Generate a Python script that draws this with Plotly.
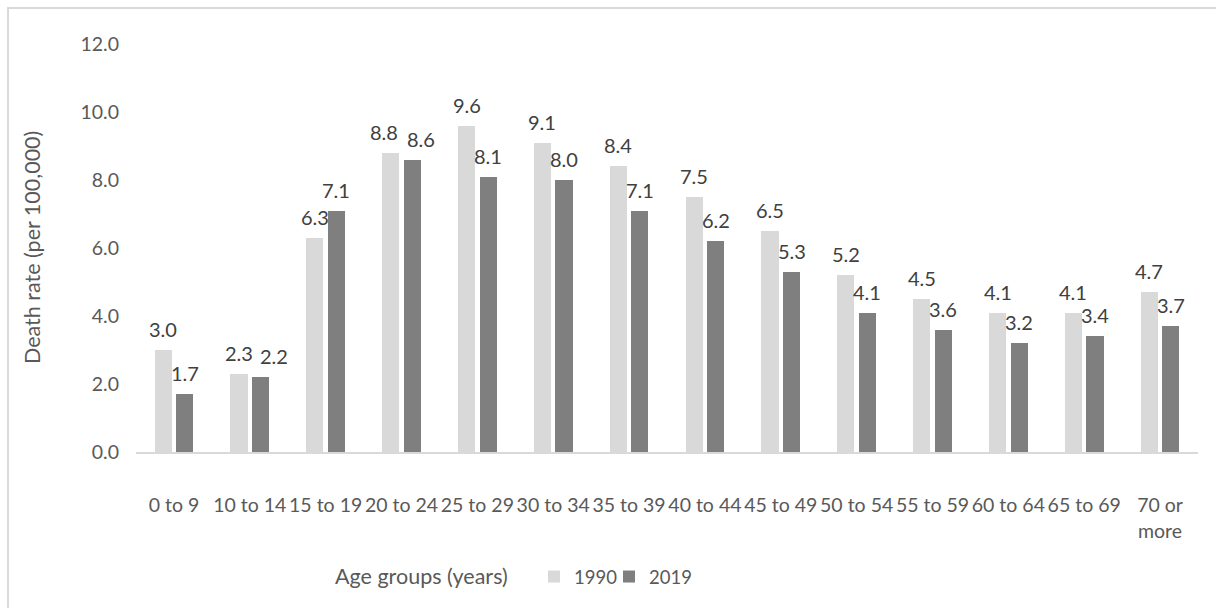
import plotly.graph_objects as go

# Age groups and death rates (per 100,000)
age_groups = ["0 to 9", "10 to 14", "15 to 19", "20 to 24", "25 to 29", "30 to 34",
              "35 to 39", "40 to 44", "45 to 49", "50 to 54", "55 to 59", "60 to 64",
              "65 to 69", "70 or<br>more"]
rate_1990 = [3.0, 2.3, 6.3, 8.8, 9.6, 9.1, 8.4, 7.5, 6.5, 5.2, 4.5, 4.1, 4.1, 4.7]
rate_2019 = [1.7, 2.2, 7.1, 8.6, 8.1, 8.0, 7.1, 6.2, 5.3, 4.1, 3.6, 3.2, 3.4, 3.7]
y_ticks = [0, 2, 4, 6, 8, 10, 12]

FONT = "Lato"
AXIS_GREY = "#595959"
LABEL_GREY = "#404040"
C1990 = "#d9d9d9"
C2019 = "#7f7f7f"

# plot-area geometry in pixels (canvas 1216 x 608)
L, R, T, B = 136, 1198, 44, 452
W, H = 1216, 608

def px(x):
    return (x - L) / (R - L)

def py(y):
    return (B - y) / (B - T)

idx = list(range(len(age_groups)))
bar_w = 0.225
gap = 0.03

# horizontal nudges (px) for value labels that would otherwise collide
label_nudge = {(1, 1): 13, (3, 0): -7, (3, 1): 9}

fig = go.Figure()
fig.add_trace(go.Bar(x=idx, y=rate_1990, name="1990", marker_color=C1990,
                     width=bar_w, offset=-gap - bar_w, marker_line_width=0,
                     legend="legend"))
fig.add_trace(go.Bar(x=idx, y=rate_2019, name="2019", marker_color=C2019,
                     width=bar_w, offset=gap, marker_line_width=0,
                     legend="legend2"))

annotations = []
for i, (a, b) in enumerate(zip(rate_1990, rate_2019)):
    for s, (xv, val) in enumerate(((i - gap - bar_w / 2, a), (i + gap + bar_w / 2, b))):
        annotations.append(dict(x=xv, y=val, xref="x", yref="y", text=f"{val:.1f}",
                                showarrow=False, yanchor="bottom", yshift=7,
                                xshift=label_nudge.get((i, s), 0),
                                font=dict(family=FONT, size=20, color=LABEL_GREY)))

# axis titles
annotations.append(dict(x=px(32), y=0.5, xref="paper", yref="paper",
                        text="Death rate (per 100,000)", textangle=-90, showarrow=False,
                        xanchor="center", yanchor="middle",
                        font=dict(family=FONT, size=21.5, color=AXIS_GREY)))
annotations.append(dict(x=px(421), y=py(576), xref="paper", yref="paper",
                        text="Age groups (years)", showarrow=False,
                        xanchor="center", yanchor="middle",
                        font=dict(family=FONT, size=21.5, color=AXIS_GREY)))

legend_style = dict(orientation="h", xanchor="left", yanchor="middle",
                    font=dict(family=FONT, size=18.5, color=AXIS_GREY),
                    itemwidth=30, bgcolor="rgba(0,0,0,0)")

fig.update_layout(
    width=W, height=H,
    margin=dict(l=L, r=W - R, t=T, b=H - B),
    paper_bgcolor="white", plot_bgcolor="white",
    bargap=0, barmode="group",
    annotations=annotations,
    showlegend=True,
    legend=dict(x=px(534), y=py(577), **legend_style),
    legend2=dict(x=px(609), y=py(577), **legend_style),
    shapes=[dict(type="rect", xref="paper", yref="paper",
                 x0=px(8), x1=px(1240), y0=py(640), y1=py(8),
                 line=dict(color="#d9d9d9", width=2), layer="below")],
    xaxis=dict(range=[-0.5, len(age_groups) - 0.5], tickmode="array", tickvals=idx,
               ticktext=age_groups, showgrid=False, zeroline=False,
               showline=True, linecolor="#d9d9d9", linewidth=1.5, ticks="",
               tickfont=dict(family=FONT, size=19.5, color=AXIS_GREY),
               ticklabelstandoff=35, tickangle=0),
    yaxis=dict(range=[0, 12], tickmode="array", tickvals=y_ticks,
               ticktext=[f"{v:.1f}" for v in y_ticks], showgrid=False, zeroline=False,
               showline=False, ticks="",
               tickfont=dict(family=FONT, size=19.5, color=AXIS_GREY),
               ticklabelstandoff=16),
    hovermode=False,
)

fig.write_html("out.html")
